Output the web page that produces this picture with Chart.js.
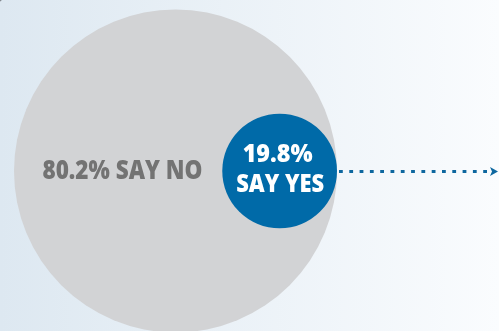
<!DOCTYPE html>
<html>
<head>
<meta charset="utf-8">
<script src="https://cdn.jsdelivr.net/npm/chart.js@4/dist/chart.umd.min.js"></script>
<style>
  html, body { margin: 0; padding: 0; background: #fff; }
  #wrap { width: 499px; height: 331px; position: relative; }
  canvas { display: block; }
</style>
</head>
<body>
<div id="wrap"><canvas id="c" width="499" height="331"></canvas></div>
<script>
// Survey answers
const answers = ['SAY NO', 'SAY YES'];
const shares = [80.2, 19.8];

// Layout (pixel units on hidden linear scales)
const BIG_CX = 175.5, CY = 171;
const BIG_R = 161.5;
const EXPONENT = 0.74;
const radiusFor = v => BIG_R * Math.pow(v / shares[0], EXPONENT);

const radii = shares.map(radiusFor);
// the smaller circle sits inside the larger one, touching its right edge
const centersX = [BIG_CX, BIG_CX + radii[0] - radii[1]];

const fills = ['#d2d3d5', '#006aa8'];
const LABEL_FONT = '"Open Sans", "Noto Sans", sans-serif';

const bgPlugin = {
  id: 'bg',
  beforeDraw(chart) {
    const { ctx, width, height } = chart;
    const g = ctx.createLinearGradient(0, 0, width, 0);
    g.addColorStop(0, '#dde8f1');
    g.addColorStop(1, '#fafcfe');
    ctx.save();
    ctx.fillStyle = g;
    ctx.fillRect(0, 0, width, height);
    // clipped glyph in the corner
    ctx.fillStyle = '#7d8288';
    ctx.font = 'italic 13px "Open Sans", sans-serif';
    ctx.textBaseline = 'top';
    ctx.fillText('?', -4, -4);
    ctx.restore();
  }
};

// draws text squeezed to a given width
function fitText(ctx, text, cx, cy, width) {
  const w = ctx.measureText(text).width;
  ctx.save();
  ctx.translate(cx, cy);
  ctx.scale(width / w, 1);
  ctx.fillText(text, 0, 0);
  ctx.restore();
}

const labelPlugin = {
  id: 'labels',
  afterDatasetsDraw(chart) {
    const { ctx } = chart;
    const pts = chart.getDatasetMeta(0).data;
    const big = pts[0], small = pts[1];
    ctx.save();
    ctx.textAlign = 'center';
    ctx.textBaseline = 'middle';

    // dotted arrow out of the small circle
    const x0 = small.x + small.options.radius + 2;
    const x1 = chart.width - 6;
    ctx.strokeStyle = '#0d679f';
    ctx.lineWidth = 2.8;
    ctx.setLineDash([3.8, 6.5]);
    ctx.beginPath();
    ctx.moveTo(x0, small.y + 0.5);
    ctx.lineTo(x1, small.y + 0.5);
    ctx.stroke();
    ctx.setLineDash([]);
    ctx.fillStyle = '#0d679f';
    ctx.beginPath();
    ctx.moveTo(x1 - 3, small.y - 4);
    ctx.lineTo(x1 + 5, small.y + 0.5);
    ctx.lineTo(x1 - 3, small.y + 5);
    ctx.lineTo(x1 - 1, small.y + 0.5);
    ctx.closePath();
    ctx.fill();

    // labels
    ctx.font = '800 26px ' + LABEL_FONT;
    ctx.fillStyle = '#737373';
    fitText(ctx, shares[0].toFixed(1) + '% ' + answers[0], big.x - 53, big.y + 1, 160);

    ctx.fillStyle = '#ffffff';
    ctx.font = '800 25px ' + LABEL_FONT;
    fitText(ctx, shares[1].toFixed(1) + '%', small.x - 2, small.y - 16, 70);
    fitText(ctx, answers[1], small.x + 0.5, small.y + 14, 88);
    ctx.restore();
  }
};

new Chart(document.getElementById('c'), {
  type: 'bubble',
  data: {
    labels: answers,
    datasets: [{
      data: shares.map((v, i) => ({ x: centersX[i], y: CY, r: radiusFor(v) })),
      backgroundColor: fills,
      borderWidth: 0,
      hoverBorderWidth: 0,
      clip: false
    }]
  },
  options: {
    responsive: false,
    animation: false,
    devicePixelRatio: 1,
    events: [],
    layout: { padding: 0, autoPadding: false },
    plugins: { legend: { display: false }, tooltip: { enabled: false } },
    scales: {
      x: { type: 'linear', min: 0, max: 499, display: false },
      y: { type: 'linear', min: 0, max: 331, reverse: true, display: false }
    }
  },
  plugins: [bgPlugin, labelPlugin]
});
</script>
</body>
</html>
